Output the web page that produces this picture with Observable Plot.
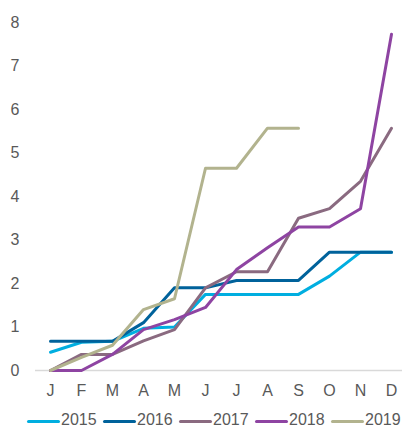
<!DOCTYPE html>
<html><head><meta charset="utf-8">
<script src="https://cdn.jsdelivr.net/npm/d3@7"></script>
<script src="https://cdn.jsdelivr.net/npm/@observablehq/plot@0.6"></script>
<style>
body{margin:0;background:#fff;font-family:"Liberation Sans",Arial,sans-serif;overflow:hidden;}
#legend{position:relative;height:20px;width:402px;margin-top:2px;}
.item{position:absolute;top:0;height:20px;display:flex;align-items:center;font-size:16px;line-height:1;color:#595959;}
.item .sw{width:33px;height:3px;margin-right:1px;border-radius:1.5px;position:relative;top:1px;}
</style></head>
<body>
<div id="chart"></div>
<div id="legend"></div>
<script>
const months = ["J","F","M","A","M","J","J","A","S","O","N","D"];
const years = ["2015","2016","2017","2018","2019"];
const colors = ["#00aee0","#00629b","#8a6a80","#8e44a2","#b2b38e"];
const v2015 = [0.42,0.65,0.67,0.97,1.0,1.75,1.75,1.75,1.75,2.17,2.72,2.72];
const v2016 = [0.67,0.67,0.67,1.1,1.9,1.9,2.07,2.07,2.07,2.72,2.72,2.72];
const v2017 = [0,0.37,0.37,0.68,0.94,1.9,2.27,2.27,3.5,3.72,4.35,5.57];
const v2018 = [0,0,0.37,0.94,1.17,1.45,2.32,2.82,3.3,3.3,3.72,7.73];
const v2019 = [0,0.3,0.58,1.4,1.65,4.65,4.65,5.57,5.57];
const yTicks = [0,1,2,3,4,5,6,7,8];

const series = [v2015,v2016,v2017,v2018,v2019];
const data = [];
series.forEach((arr,si)=>arr.forEach((v,i)=>data.push({year:years[si], m:i, value:v})));

const chart = Plot.plot({
  width:402, height:408,
  marginLeft:35, marginRight:0, marginTop:22, marginBottom:38,
  style:{fontFamily:'"Liberation Sans",Arial,sans-serif', fontSize:"16px", color:"#595959", background:"#fff"},
  x:{type:"point", domain:d3.range(12), padding:0.4, align:0.56, tickSize:0, tickPadding:14, tickFormat:i=>months[i], label:null},
  y:{domain:[0,8], ticks:yTicks, tickSize:0, tickPadding:16, label:null},
  color:{domain:years, range:colors},
  marks:[
    Plot.ruleY([0],{stroke:"#d9d9d9", strokeWidth:1.3}),
    Plot.line(data,{x:"m", y:"value", z:"year", stroke:"year", strokeWidth:3, strokeLinejoin:"round"})
  ]
});
document.getElementById("chart").appendChild(chart);

const lefts = [27,103,179,255,331];
const lg = document.getElementById("legend");
years.forEach((y,i)=>{
  const d = document.createElement("div");
  d.className="item"; d.style.left=lefts[i]+"px";
  d.innerHTML = `<span class="sw" style="background:${colors[i]}"></span><span>${y}</span>`;
  lg.appendChild(d);
});
</script>
</body></html>
